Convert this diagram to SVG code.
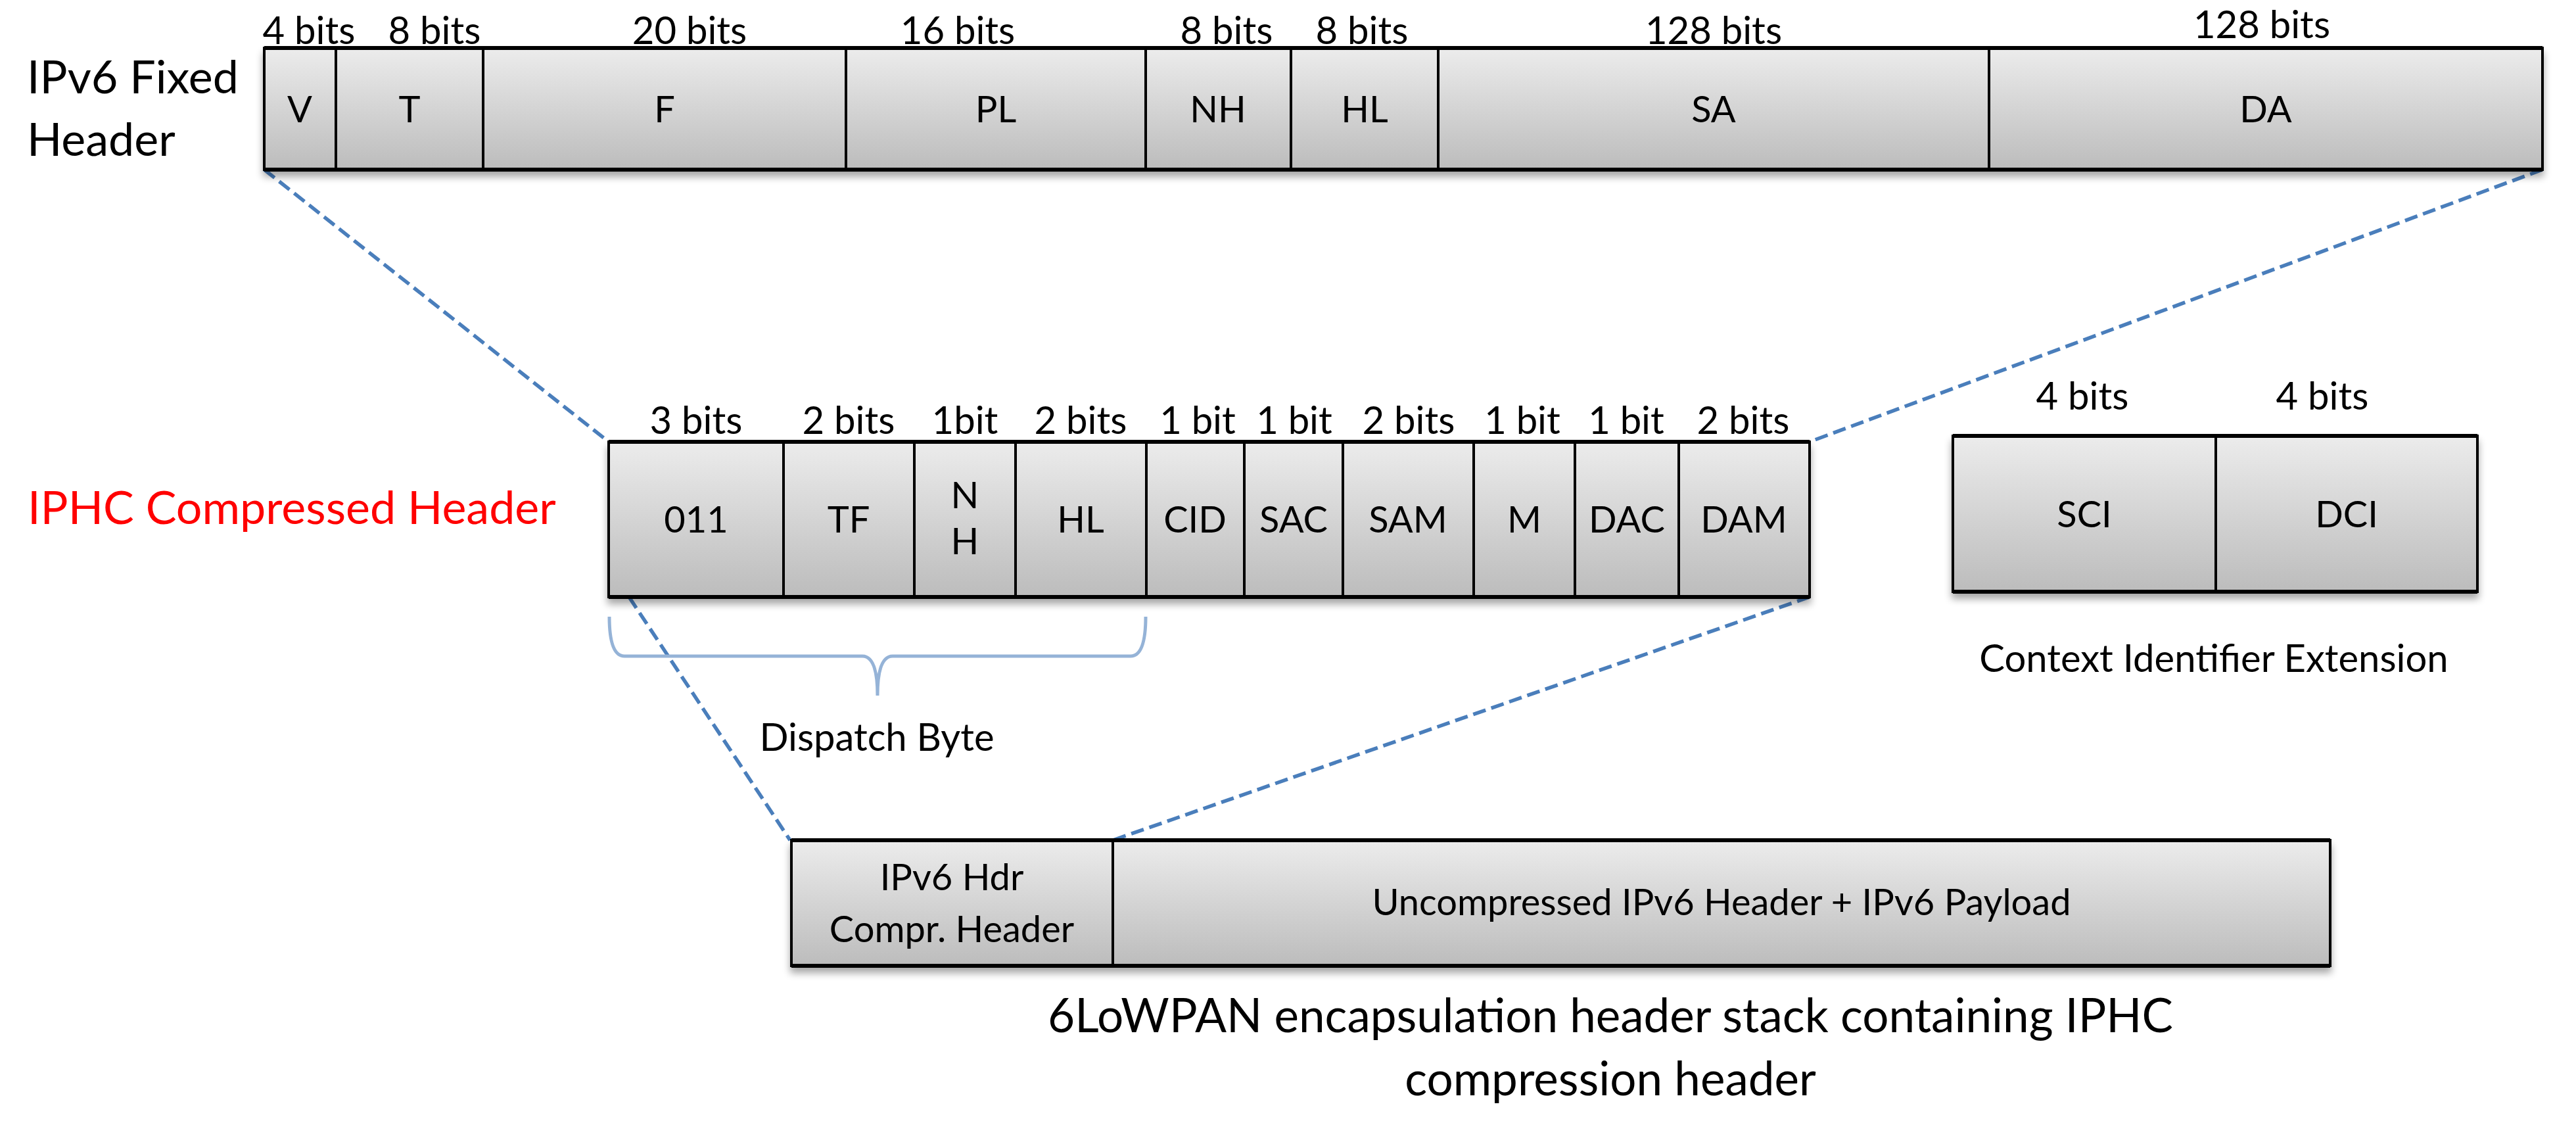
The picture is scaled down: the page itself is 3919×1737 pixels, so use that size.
<svg xmlns="http://www.w3.org/2000/svg" width="3919" height="1737" viewBox="0 0 3919 1737">
<defs>
<linearGradient id="g" x1="0" y1="0" x2="0" y2="1">
<stop offset="0" stop-color="#ececec"/>
<stop offset="1" stop-color="#bcbcbc"/>
</linearGradient>
<filter id="sh" x="-5%" y="-10%" width="110%" height="130%">
<feGaussianBlur in="SourceAlpha" stdDeviation="6"/>
<feOffset dx="0" dy="9" result="b"/>
<feComponentTransfer><feFuncA type="linear" slope="0.35"/></feComponentTransfer>
<feMerge><feMergeNode/><feMergeNode in="SourceGraphic"/></feMerge>
</filter>
<style>
.c{fill:url(#g);stroke:#000;stroke-width:4}
.o{fill:none;stroke:#000;stroke-width:6}
text{font-family:Lato,"Liberation Sans",sans-serif;fill:#000}
.b{font-size:58px;text-anchor:middle}
.l{font-size:56px;text-anchor:middle}
.big{font-size:70px}
.d{fill:none;stroke:#4a7ebb;stroke-width:5.5;stroke-dasharray:20 9}
</style>
</defs>
<rect width="3919" height="1737" fill="#fff"/>

<g id="connectors">
<line class="d" x1="402" y1="258" x2="926" y2="672"/>
<line class="d" x1="3868" y1="258" x2="2753" y2="672"/>
<line class="d" x1="957" y1="908" x2="1202" y2="1278"/>
<line class="d" x1="2753" y1="908" x2="1693" y2="1278"/>
</g>

<g id="ipv6-label">
<text class="big" x="41" y="142">IPv6 Fixed</text>
<text class="big" x="41" y="237">Header</text>
</g>

<g id="ipv6-fixed-header">
<g filter="url(#sh)">
<rect class="c" x="402" y="73" width="109" height="185"/>
<rect class="c" x="511" y="73" width="224" height="185"/>
<rect class="c" x="735" y="73" width="552" height="185"/>
<rect class="c" x="1287" y="73" width="456" height="185"/>
<rect class="c" x="1743" y="73" width="221" height="185"/>
<rect class="c" x="1964" y="73" width="224" height="185"/>
<rect class="c" x="2188" y="73" width="838" height="185"/>
<rect class="c" x="3026" y="73" width="842" height="185"/>
</g>
<line class="o" x1="402" y1="73" x2="3868" y2="73"/>
<line class="o" x1="402" y1="258" x2="3868" y2="258"/>
<text class="l" x="456" y="186">V</text>
<text class="l" x="623" y="186">T</text>
<text class="l" x="1011" y="186">F</text>
<text class="l" x="1515" y="186">PL</text>
<text class="l" x="1853" y="186">NH</text>
<text class="l" x="2076" y="186">HL</text>
<text class="l" x="2607" y="186">SA</text>
<text class="l" x="3447" y="186">DA</text>
<text class="b" x="470" y="67">4 bits</text>
<text class="b" x="661" y="67">8 bits</text>
<text class="b" x="1049" y="67">20 bits</text>
<text class="b" x="1457" y="67">16 bits</text>
<text class="b" x="1866" y="67">8 bits</text>
<text class="b" x="2072" y="67">8 bits</text>
<text class="b" x="2607" y="67">128 bits</text>
<text class="b" x="3441" y="58">128 bits</text>
</g>

<g id="iphc-label">
<text x="42" y="797" style="font-size:70px;fill:#ff0000">IPHC Compressed Header</text>
</g>

<g id="iphc-header">
<g filter="url(#sh)">
<rect class="c" x="926" y="672" width="266" height="236"/>
<rect class="c" x="1192" y="672" width="199" height="236"/>
<rect class="c" x="1391" y="672" width="154" height="236"/>
<rect class="c" x="1545" y="672" width="199" height="236"/>
<rect class="c" x="1744" y="672" width="149" height="236"/>
<rect class="c" x="1893" y="672" width="150" height="236"/>
<rect class="c" x="2043" y="672" width="199" height="236"/>
<rect class="c" x="2242" y="672" width="154" height="236"/>
<rect class="c" x="2396" y="672" width="158" height="236"/>
<rect class="c" x="2554" y="672" width="199" height="236"/>
</g>
<line class="o" x1="926" y1="672" x2="2753" y2="672"/>
<line class="o" x1="926" y1="908" x2="2753" y2="908"/>
<text class="l" x="1059" y="810">011</text>
<text class="l" x="1291" y="810">TF</text>
<text class="l" x="1468" y="773">N</text>
<text class="l" x="1468" y="843">H</text>
<text class="l" x="1644" y="810">HL</text>
<text class="l" x="1818" y="810">CID</text>
<text class="l" x="1968" y="810">SAC</text>
<text class="l" x="2142" y="810">SAM</text>
<text class="l" x="2319" y="810">M</text>
<text class="l" x="2475" y="810">DAC</text>
<text class="l" x="2653" y="810">DAM</text>
<text class="b" x="1059" y="660">3 bits</text>
<text class="b" x="1291" y="660">2 bits</text>
<text class="b" x="1468" y="660">1bit</text>
<text class="b" x="1644" y="660">2 bits</text>
<text class="b" x="1822" y="660">1 bit</text>
<text class="b" x="1969" y="660">1 bit</text>
<text class="b" x="2143" y="660">2 bits</text>
<text class="b" x="2316" y="660">1 bit</text>
<text class="b" x="2474" y="660">1 bit</text>
<text class="b" x="2652" y="660">2 bits</text>
</g>

<g id="dispatch-byte">
<path d="M927,938 Q927,998 950,998 L1312,998 Q1335,998 1335,1058 Q1335,998 1358,998 L1720,998 Q1743,998 1743,938" fill="none" stroke="#95b3d7" stroke-width="5"/>
<text class="b" x="1334" y="1142">Dispatch Byte</text>
</g>

<g id="context-extension">
<g filter="url(#sh)">
<rect class="c" x="2971" y="663" width="400" height="237"/>
<rect class="c" x="3371" y="663" width="398" height="237"/>
</g>
<line class="o" x1="2971" y1="663" x2="3769" y2="663"/>
<line class="o" x1="2971" y1="900" x2="3769" y2="900"/>
<text class="l" x="3171" y="802">SCI</text>
<text class="l" x="3570" y="802">DCI</text>
<text class="b" x="3168" y="623">4 bits</text>
<text class="b" x="3533" y="623">4 bits</text>
<text class="b" x="3368" y="1022">Context Identifier Extension</text>
</g>

<g id="lowpan-stack">
<g filter="url(#sh)">
<rect class="c" x="1204" y="1278" width="489" height="191"/>
<rect class="c" x="1693" y="1278" width="1852" height="191"/>
</g>
<line class="o" x1="1204" y1="1278" x2="3545" y2="1278"/>
<line class="o" x1="1204" y1="1469" x2="3545" y2="1469"/>
<text class="l" x="1448" y="1354">IPv6 Hdr</text>
<text class="l" x="1448" y="1433">Compr. Header</text>
<text class="l" x="2619" y="1392">Uncompressed IPv6 Header + IPv6 Payload</text>
<text x="2450" y="1570" style="font-size:71px;text-anchor:middle">6LoWPAN encapsulation header stack containing IPHC</text>
<text x="2450" y="1666" style="font-size:71px;text-anchor:middle">compression header</text>
</g>
</svg>
